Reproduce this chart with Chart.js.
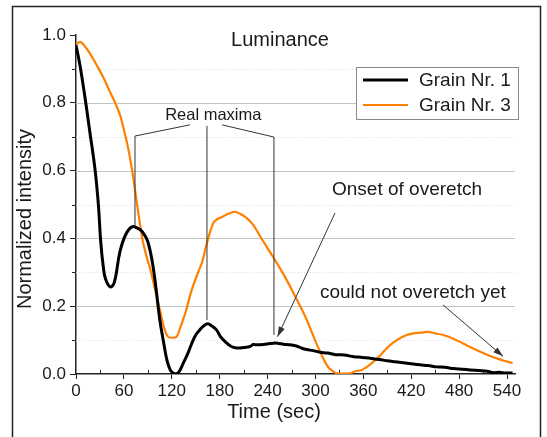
<!DOCTYPE html>
<html>
<head>
<meta charset="utf-8">
<script src="https://cdn.jsdelivr.net/npm/chart.js@4.4.1/dist/chart.umd.min.js"></script>
<style>
  body { margin: 0; background: #fff; }
  #wrap { width: 547px; height: 437px; }
</style>
</head>
<body>
<div id="wrap"><canvas id="chart" width="547" height="437"></canvas></div>
<script>
// Grain Nr. 1 (black)
const timeGrain1 = [0, 5, 11, 17, 24, 28, 31, 34, 37, 43, 48, 55, 62, 70, 77, 83, 90, 97, 105, 110, 114, 118, 122, 126, 130, 134, 140, 145, 150, 155, 160, 165, 170, 176, 181, 187, 194, 201, 210, 218, 222, 226, 235, 243, 252, 260, 268, 277, 283, 289, 297, 306, 315, 325, 336, 348, 359, 370, 380, 390, 400, 410, 420, 431, 441, 452, 462, 473, 484, 494, 505, 515, 523, 530, 538, 547];
const grain1 = [0.97, 0.91, 0.82, 0.72, 0.60, 0.50, 0.39, 0.32, 0.28, 0.257, 0.27, 0.36, 0.41, 0.434, 0.43, 0.42, 0.39, 0.31, 0.16, 0.09, 0.04, 0.012, 0.002, 0.0, 0.01, 0.03, 0.06, 0.09, 0.115, 0.13, 0.142, 0.148, 0.142, 0.13, 0.11, 0.095, 0.082, 0.077, 0.078, 0.081, 0.087, 0.086, 0.087, 0.09, 0.091, 0.088, 0.086, 0.082, 0.076, 0.072, 0.069, 0.064, 0.062, 0.057, 0.056, 0.051, 0.049, 0.046, 0.043, 0.039, 0.036, 0.033, 0.030, 0.027, 0.025, 0.021, 0.020, 0.016, 0.014, 0.012, 0.010, 0.008, 0.004, 0.005, 0.003, 0.003];

// Grain Nr. 3 (orange)
const timeGrain3 = [0, 5, 10, 17, 25, 34, 41, 49, 55, 59, 65, 70, 76, 83, 88, 93, 99, 105, 110, 115, 120, 126, 131, 137, 145, 153, 158, 164, 172, 178, 183, 190, 199, 206, 214, 222, 231, 239, 247, 256, 264, 270, 277, 283, 289, 296, 303, 310, 316, 322, 327, 343, 350, 358, 365, 372, 380, 387, 395, 402, 412, 423, 432, 440, 450, 460, 472, 485, 497, 510, 522, 535, 547];
const grain3 = [0.97, 0.98, 0.97, 0.947, 0.915, 0.876, 0.84, 0.80, 0.765, 0.73, 0.67, 0.605, 0.51, 0.40, 0.35, 0.31, 0.25, 0.19, 0.14, 0.11, 0.107, 0.11, 0.14, 0.18, 0.248, 0.30, 0.33, 0.386, 0.445, 0.458, 0.463, 0.472, 0.478, 0.472, 0.46, 0.44, 0.405, 0.375, 0.345, 0.31, 0.277, 0.25, 0.218, 0.19, 0.16, 0.12, 0.08, 0.045, 0.02, 0.008, 0.002, 0.002, 0.008, 0.012, 0.022, 0.035, 0.052, 0.07, 0.088, 0.10, 0.113, 0.12, 0.122, 0.124, 0.12, 0.115, 0.105, 0.09, 0.076, 0.062, 0.05, 0.04, 0.032];

const seriesNames = ['Grain Nr. 1', 'Grain Nr. 3'];
const xTickStep = 60;
const yTickStep = 0.2;

const FONT = '"Liberation Sans", Arial, sans-serif';
const TEXT = '#1a1a1a';

// annotation anchors in data units (sec, intensity)
const realMaximaLabel = { x: 172, y: 0.762 };
const realMaximaLines = [
    [[142.8, 0.735], [73.9, 0.702], [73.9, 0.434]],
    [[164.1, 0.732], [164.1, 0.159]],
    [[182.9, 0.735], [248, 0.699], [248, 0.115]]
];
const onsetLabel = { x: 414.7, y: 0.543 };
const onsetArrow = [[324.5, 0.475], [252.5, 0.11]];
const notYetLabel = { x: 422, y: 0.239 };
const notYetArrow = [[459.8, 0.204], [535, 0.052]];

function toPoints(xs, ys) {
    return xs.map((x, i) => ({ x: x, y: ys[i] }));
}

function drawArrow(ctx, x1, y1, x2, y2) {
    ctx.beginPath();
    ctx.moveTo(x1, y1);
    ctx.lineTo(x2, y2);
    ctx.stroke();
    const a = Math.atan2(y2 - y1, x2 - x1);
    const len = 10, half = 3.2;
    ctx.beginPath();
    ctx.moveTo(x2, y2);
    ctx.lineTo(x2 - len * Math.cos(a) + half * Math.sin(a), y2 - len * Math.sin(a) - half * Math.cos(a));
    ctx.lineTo(x2 - len * Math.cos(a) - half * Math.sin(a), y2 - len * Math.sin(a) + half * Math.cos(a));
    ctx.closePath();
    ctx.fill();
}

// gridlines (solid major, dotted minor) and minor ticks
const gridPlugin = {
    id: 'gridPlugin',
    beforeDatasetsDraw(chart) {
        const { ctx, chartArea, scales } = chart;
        const y = scales.y, x = scales.x;
        ctx.save();
        ctx.lineWidth = 1;
        for (let i = 1; i <= 9; i++) {
            const py = Math.round(y.getPixelForValue(i / 10)) + 0.5;
            ctx.strokeStyle = i % 2 === 0 ? '#c4c4c4' : '#dcdcdc';
            ctx.setLineDash(i % 2 === 0 ? [] : [1, 2]);
            ctx.beginPath();
            ctx.moveTo(chartArea.left, py);
            ctx.lineTo(chartArea.right, py);
            ctx.stroke();
        }
        ctx.setLineDash([]);
        ctx.strokeStyle = '#222';
        // minor y ticks
        for (let i = 1; i <= 9; i += 2) {
            const py = Math.round(y.getPixelForValue(i / 10)) + 0.5;
            ctx.beginPath();
            ctx.moveTo(chartArea.left - 4, py);
            ctx.lineTo(chartArea.left, py);
            ctx.stroke();
        }
        // minor x ticks
        for (let t = 30; t < 550; t += 60) {
            const px = Math.round(x.getPixelForValue(t)) + 0.5;
            ctx.beginPath();
            ctx.moveTo(px, chartArea.bottom);
            ctx.lineTo(px, chartArea.bottom - 4);
            ctx.stroke();
        }
        ctx.restore();
    }
};

const decorPlugin = {
    id: 'decorPlugin',
    afterDraw(chart) {
        const { ctx, scales } = chart;
        const x = scales.x, y = scales.y;
        const P = (d) => [x.getPixelForValue(d[0]), y.getPixelForValue(d[1])];
        ctx.save();

        // title
        ctx.fillStyle = TEXT;
        ctx.textAlign = 'center';
        ctx.textBaseline = 'middle';
        ctx.font = '20px ' + FONT;
        ctx.fillText('Luminance', 280, 40);

        // axis titles
        ctx.fillText('Time (sec)', 274, 412);
        ctx.save();
        ctx.translate(25, 219);
        ctx.rotate(-Math.PI / 2);
        ctx.fillText('Normalized intensity', 0, 0);
        ctx.restore();

        // legend
        const ds = chart.data.datasets;
        ctx.fillStyle = '#fff';
        ctx.fillRect(356, 67, 162, 52);
        ctx.strokeStyle = '#8a8a8a';
        ctx.lineWidth = 1;
        ctx.strokeRect(356.5, 67.5, 162, 52);
        ds.forEach((d, i) => {
            const ly = 80 + i * 25;
            ctx.strokeStyle = d.borderColor;
            ctx.lineWidth = d.borderWidth;
            ctx.beginPath();
            ctx.moveTo(363, ly);
            ctx.lineTo(408, ly);
            ctx.stroke();
            ctx.fillStyle = TEXT;
            ctx.textAlign = 'left';
            ctx.font = '19px ' + FONT;
            ctx.fillText(d.label, 419, ly + 1);
        });

        // annotations
        ctx.strokeStyle = '#333';
        ctx.fillStyle = '#333';
        ctx.lineWidth = 1;
        realMaximaLines.forEach(line => {
            ctx.beginPath();
            line.forEach((pt, i) => {
                const [px, py] = P(pt);
                if (i === 0) ctx.moveTo(px, py); else ctx.lineTo(px, py);
            });
            ctx.stroke();
        });
        let a = P(onsetArrow[0]), b = P(onsetArrow[1]);
        drawArrow(ctx, a[0], a[1], b[0], b[1]);
        a = P(notYetArrow[0]); b = P(notYetArrow[1]);
        drawArrow(ctx, a[0], a[1], b[0], b[1]);

        ctx.fillStyle = TEXT;
        ctx.textAlign = 'center';
        ctx.font = '16.5px ' + FONT;
        ctx.fillText('Real maxima', x.getPixelForValue(realMaximaLabel.x), y.getPixelForValue(realMaximaLabel.y));
        ctx.font = '19px ' + FONT;
        ctx.fillText('Onset of overetch', x.getPixelForValue(onsetLabel.x), y.getPixelForValue(onsetLabel.y));
        ctx.fillText('could not overetch yet', x.getPixelForValue(notYetLabel.x), y.getPixelForValue(notYetLabel.y));

        // outer frame
        ctx.strokeStyle = '#222';
        ctx.lineWidth = 1.5;
        ctx.strokeRect(12.5, 6.5, 528, 450);
        ctx.restore();
    }
};

const chart = new Chart(document.getElementById('chart'), {
    type: 'line',
    data: {
        datasets: [
            {
                label: seriesNames[0],
                data: toPoints(timeGrain1, grain1),
                borderColor: '#000000',
                borderWidth: 3,
                pointRadius: 0,
                tension: 0.4,
                order: 1
            },
            {
                label: seriesNames[1],
                data: toPoints(timeGrain3, grain3),
                borderColor: '#ff8000',
                borderWidth: 2.2,
                pointRadius: 0,
                tension: 0.4,
                order: 2
            }
        ]
    },
    options: {
        responsive: false,
        animation: false,
        devicePixelRatio: 1,
        layout: { padding: { left: 0, top: 35, right: 32, bottom: 0 } },
        plugins: {
            legend: { display: false },
            title: { display: false },
            tooltip: { enabled: false }
        },
        scales: {
            x: {
                type: 'linear',
                min: 0,
                max: 550,
                afterFit: s => { s.height = 63; },
                grid: { drawOnChartArea: false, drawTicks: true, tickLength: 5, tickColor: '#222' },
                border: { color: '#222', width: 1.5 },
                ticks: {
                    stepSize: xTickStep,
                    includeBounds: false,
                    maxRotation: 0,
                    autoSkip: false,
                    padding: 2,
                    color: TEXT,
                    font: { family: FONT, size: 17 }
                }
            },
            y: {
                min: 0,
                max: 1,
                afterFit: s => { s.width = 76; },
                grid: { drawOnChartArea: false, drawTicks: true, tickLength: 6, tickColor: '#222' },
                border: { color: '#222', width: 1.5 },
                ticks: {
                    stepSize: yTickStep,
                    padding: 4,
                    color: TEXT,
                    font: { family: FONT, size: 17 },
                    callback: v => v.toFixed(1)
                }
            }
        }
    },
    plugins: [gridPlugin, decorPlugin]
});
</script>
</body>
</html>
